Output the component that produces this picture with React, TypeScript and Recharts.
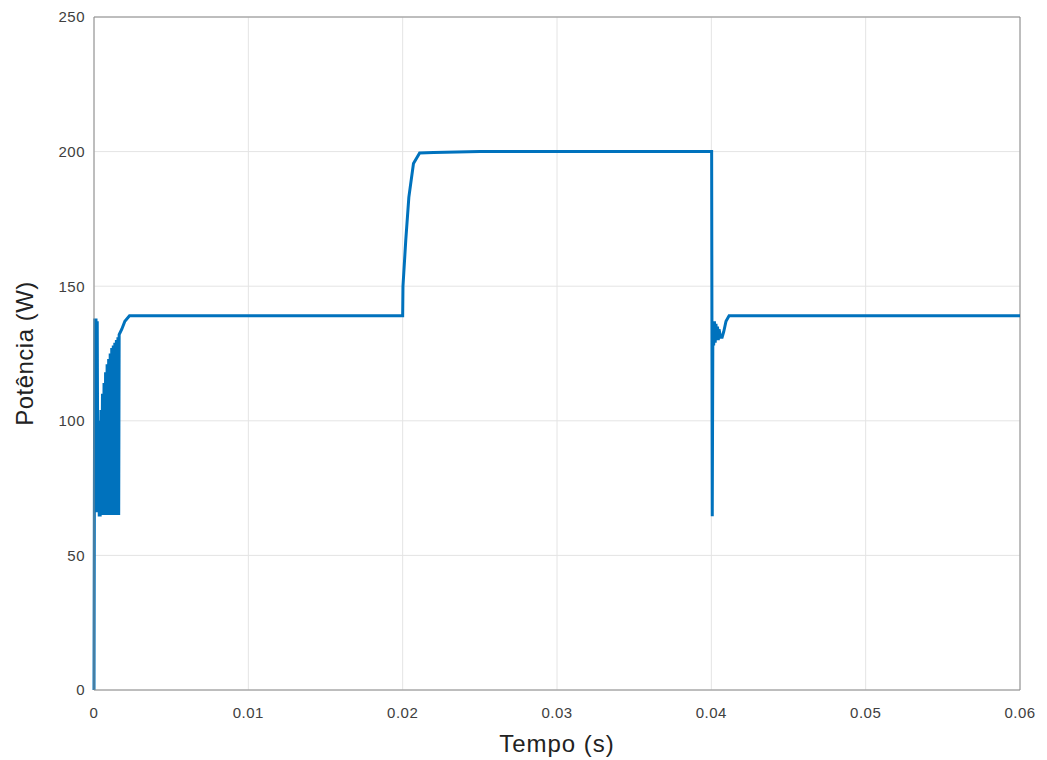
import {
  LineChart,
  Line,
  XAxis,
  YAxis,
  CartesianGrid,
  ReferenceLine,
  Label,
} from "recharts";

// time (s) and power (W) samples
const tempo = [
  0, 0.00002, 0.00005, 0.00009, 0.00013, 0.00017, 0.00021, 0.00025, 0.0003,
  0.00034, 0.0004, 0.00045, 0.0005, 0.00055, 0.0006, 0.00065, 0.0007,
  0.00075, 0.0008, 0.00085, 0.0009, 0.00095, 0.001, 0.00105, 0.0011,
  0.00115, 0.0012, 0.00125, 0.0013, 0.00135, 0.0014, 0.00145, 0.0015,
  0.00155, 0.0016, 0.00163, 0.0018, 0.002, 0.0023, 0.0025,
  0.0199, 0.02, 0.02002, 0.0202, 0.0204, 0.0207, 0.0211, 0.022, 0.025,
  0.04, 0.04002, 0.04006, 0.0401, 0.04015, 0.0402, 0.04025, 0.0403,
  0.04035, 0.0404, 0.04045, 0.0405, 0.0406, 0.0407, 0.0408, 0.04095,
  0.04115, 0.06,
];

const potencia = [
  0, 60, 138, 66, 138, 66, 137, 66, 100,
  65, 65, 104, 65, 110, 65, 114, 65,
  118, 65, 121, 65, 123, 65, 125, 65,
  127, 65, 128, 65, 129, 65, 130, 65,
  131, 65, 132, 134, 137, 139, 139,
  139, 139, 150, 167, 183, 195.6, 199.5, 199.7, 200,
  200, 200, 64.5, 136, 128, 137, 129, 136,
  130, 135, 130, 134, 131, 131, 133, 137,
  139, 139,
];

const xTicks = [0, 0.01, 0.02, 0.03, 0.04, 0.05, 0.06];
const yTicks = [0, 50, 100, 150, 200, 250];

const data = tempo.map((t, i) => ({ t, p: potencia[i] }));

const font = "'Liberation Sans', Arial, Helvetica, sans-serif";
const axisColor = "#8a8a8a";
const tickStyle = { fontSize: 15, fill: "#404040", letterSpacing: 0.5 };

const App = () => {
  return (
    <div style={{ width: 1047, height: 760, background: "#fff" }}>
      <style>{`body{margin:0}`}</style>
      <LineChart
        width={1047}
        height={760}
        data={data}
        margin={{ top: 17, right: 27, bottom: 0, left: 0 }}
        style={{ fontFamily: font }}
      >
        <CartesianGrid stroke="#e4e4e4" strokeWidth={1} />
        <XAxis
          dataKey="t"
          type="number"
          domain={[0, 0.06]}
          ticks={xTicks}
          tickFormatter={(v: number) => (v === 0 ? "0" : String(v))}
          height={70}
          stroke={axisColor}
          tickLine={false}
          tickMargin={11}
          tick={tickStyle}
          interval={0}
        >
          <Label
            value="Tempo (s)"
            position="insideBottom"
            offset={8}
            style={{ fontSize: 24, fill: "#222", letterSpacing: 1, fontFamily: font }}
          />
        </XAxis>
        <YAxis
          type="number"
          domain={[0, 250]}
          ticks={yTicks}
          width={94}
          stroke={axisColor}
          tickLine={false}
          tickMargin={3}
          tick={tickStyle}
          interval={0}
        >
          <Label
            value="Potência (W)"
            angle={-90}
            position="insideLeft"
            offset={24}
            style={{
              fontSize: 24,
              fill: "#222",
              textAnchor: "middle",
              letterSpacing: 0.5,
              fontFamily: font,
            }}
          />
        </YAxis>
        <ReferenceLine y={250} stroke={axisColor} />
        <ReferenceLine x={0.06} stroke={axisColor} />
        <Line
          type="linear"
          dataKey="p"
          stroke="#0072BD"
          strokeWidth={3}
          dot={false}
          isAnimationActive={false}
        />
      </LineChart>
    </div>
  );
};

export default App;
